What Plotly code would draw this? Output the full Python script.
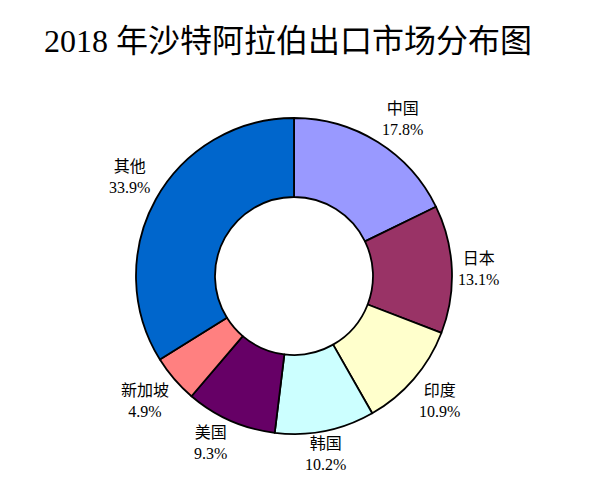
import math

import plotly.graph_objects as go

# 数据：2018 年沙特阿拉伯出口市场分布（%）
markets = ["中国", "日本", "印度", "韩国", "美国", "新加坡", "其他"]
shares = [17.8, 13.1, 10.9, 10.2, 9.3, 4.9, 33.9]
colors = ["#9999FF", "#993366", "#FFFFCC", "#CCFFFF", "#660066", "#FF8080", "#0066CC"]

W, H = 600, 489
CX, CY, R = 294, 276, 158  # 饼图中心与半径（像素）

fig = go.Figure()
fig.add_trace(
    go.Pie(
        labels=markets,
        values=shares,
        hole=0.5,
        sort=False,
        direction="clockwise",
        rotation=0,
        marker=dict(colors=colors, line=dict(color="#000000", width=1.8)),
        textinfo="none",
        hoverinfo="label+percent",
        showlegend=False,
        domain=dict(x=[(CX - R) / W, (CX + R) / W], y=[(H - CY - R) / H, (H - CY + R) / H]),
    )
)

# 外侧数据标签：按扇区中线角度放在外缘，锚点随象限变化（类似 Excel“数据标签外”）
total = sum(shares)
cum = 0.0
for name, v in zip(markets, shares):
    mid = (cum + v / 2) / total * 2 * math.pi
    cum += v
    s, c = math.sin(mid), math.cos(mid)
    px = CX + (R + 4) * s
    py = CY - (R + 2) * c
    xa = "left" if s > 0.25 else ("right" if s < -0.25 else "center")
    ya = "bottom" if c > 0.25 else ("top" if c < -0.25 else "middle")
    fig.add_annotation(
        x=px / W,
        y=1 - py / H,
        xref="paper",
        yref="paper",
        text=f"{name}<br>{v:.1f}%",
        showarrow=False,
        xanchor=xa,
        yanchor=ya,
        align="center",
        font=dict(family="Liberation Serif, Noto Sans CJK SC", size=16, color="#000000"),
    )

fig.update_layout(
    width=W,
    height=H,
    margin=dict(l=0, r=0, t=0, b=0),
    paper_bgcolor="#FFFFFF",
    plot_bgcolor="#FFFFFF",
    title=dict(
        text="2018 年沙特阿拉伯出口市场分布图",
        x=288 / W,
        xanchor="center",
        y=1 - 41 / H,
        yanchor="middle",
        font=dict(family="Liberation Serif, Noto Sans CJK SC", size=32, color="#000000"),
    ),
)

# 去掉页面默认 8px 边距，使图与窗口左上角对齐
fig.write_html(
    "out.html",
    config={"displayModeBar": False},
    post_script="document.body.style.margin='0';",
)
